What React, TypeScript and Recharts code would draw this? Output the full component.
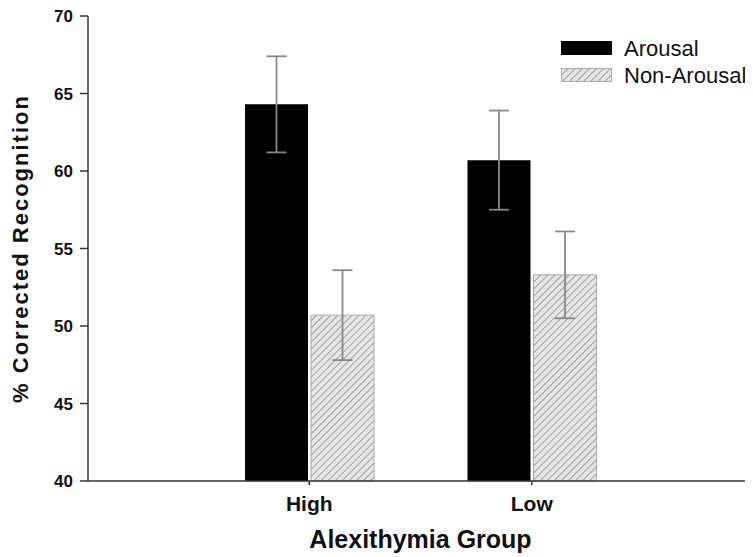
import { BarChart, Bar, XAxis, YAxis, ErrorBar } from "recharts";

const groups = ["High", "Low"];
const arousal = [64.3, 60.7];
const arousalErr = [3.1, 3.2];
const nonArousal = [50.7, 53.3];
const nonArousalErr = [2.9, 2.8];
const yTicks = [40, 45, 50, 55, 60, 65, 70];

const data = groups.map((g, i) => ({
  group: g,
  arousal: arousal[i],
  arousalErr: arousalErr[i],
  nonArousal: nonArousal[i],
  nonArousalErr: nonArousalErr[i],
}));

const font = "'Liberation Sans', Arial, sans-serif";

// legend drawn beside the chart so it doesn't shrink the plot area
function LegendBox() {
  const item = (fill: string, label: string, border: string) => (
    <div style={{ display: "flex", alignItems: "center", height: 27 }}>
      <svg width={52} height={15} style={{ marginRight: 11 }}>
        <rect x={0.5} y={0.5} width={50} height={13} fill={fill} stroke={border} />
      </svg>
      <span style={{ fontSize: 22, color: "#111", fontFamily: font }}>{label}</span>
    </div>
  );
  return (
    <div style={{ position: "absolute", left: 553, top: 27 }}>
      {item("#000", "Arousal", "#000")}
      {item("url(#hatch)", "Non-Arousal", "#aaa")}
    </div>
  );
}

export default function App() {
  return (
    <div style={{ fontFamily: font, position: "relative", width: 745, height: 549 }}>
      <svg width={0} height={0} style={{ position: "absolute" }}>
        <defs>
          <pattern id="hatch" width={5} height={5} patternUnits="userSpaceOnUse" patternTransform="rotate(45)">
            <rect width={5} height={5} fill="#e6e6e6" />
            <line x1={0} y1={0} x2={0} y2={5} stroke="#8c8c8c" strokeWidth={1.6} />
          </pattern>
        </defs>
      </svg>
      <BarChart
        width={745}
        height={549}
        data={data}
        margin={{ top: 8, right: 0, left: 0, bottom: 0 }}
        barSize={63}
        barGap={3}
      >
        <XAxis
          dataKey="group"
          height={76}
          padding={{ left: 110, right: 110 }}
          axisLine={{ stroke: "#333", strokeWidth: 1.5 }}
          tickLine={{ stroke: "#333", strokeWidth: 1.5 }}
          tickSize={4}
          tickMargin={11}
          tick={{ fontSize: 21, fontWeight: "bold", fill: "#111" }}
          label={{
            value: "Alexithymia Group",
            position: "insideBottom",
            offset: 9,
            fontSize: 25,
            fontWeight: "bold",
            fill: "#111",
          }}
        />
        <YAxis
          width={80}
          domain={[40, 70]}
          ticks={yTicks}
          interval={0}
          axisLine={{ stroke: "#333", strokeWidth: 1.5 }}
          tickLine={{ stroke: "#333", strokeWidth: 1.5 }}
          tickSize={8}
          tickMargin={7}
          tick={{ fontSize: 17, fontWeight: "bold", fill: "#111" }}
          label={{
            value: "% Corrected Recognition",
            angle: -90,
            position: "center",
            dx: -28,
            fontSize: 22,
            fontWeight: "bold",
            fill: "#111",
            letterSpacing: 2,
          }}
        />
        <Bar dataKey="arousal" name="Arousal" fill="#000" isAnimationActive={false}>
          <ErrorBar dataKey="arousalErr" width={10} stroke="#888" strokeWidth={1.8} />
        </Bar>
        <Bar
          dataKey="nonArousal"
          name="Non-Arousal"
          fill="url(#hatch)"
          stroke="#aaa"
          strokeWidth={1}
          isAnimationActive={false}
        >
          <ErrorBar dataKey="nonArousalErr" width={10} stroke="#888" strokeWidth={1.8} />
        </Bar>
      </BarChart>
      <LegendBox />
    </div>
  );
}
